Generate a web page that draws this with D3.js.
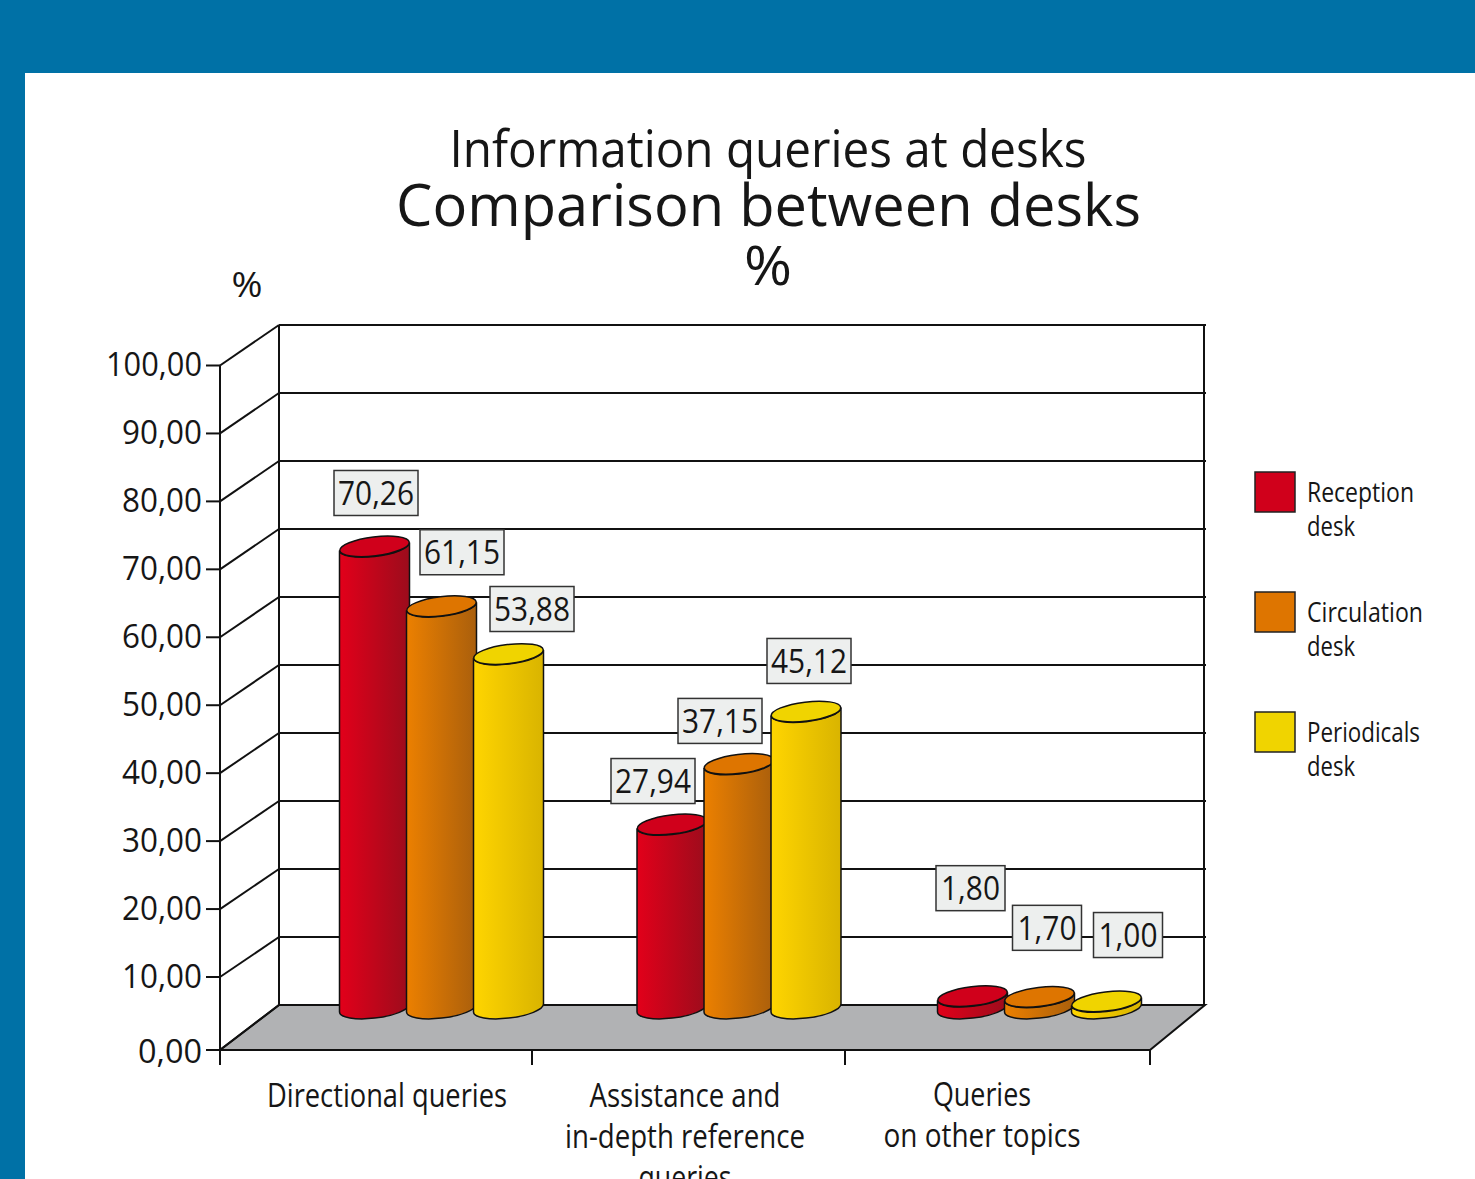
<!DOCTYPE html>
<html><head><meta charset="utf-8">
<script src="https://cdn.jsdelivr.net/npm/d3@7"></script>
<style>html,body{margin:0;padding:0;background:#fff;overflow:hidden}svg{display:block}text{font-family:"Open Sans","Noto Sans",sans-serif;fill:#161616}</style>
</head><body><div id="c"></div>
<script>
const categories = ["Directional queries", "Assistance and|in-depth reference|queries", "Queries|on other topics"];
const seriesNames = ["Reception|desk", "Circulation|desk", "Periodicals|desk"];
const receptionDesk = [70.26, 27.94, 1.80];
const circulationDesk = [61.15, 37.15, 1.70];
const periodicalsDesk = [53.88, 45.12, 1.00];
const seriesColors = ["#d0001b", "#de7500", "#f0d400"];
const yTicks = [0,10,20,30,40,50,60,70,80,90,100];

const W=1475,H=1179;
const svg=d3.select("#c").append("svg").attr("width",W).attr("height",H);
const defs=svg.append("defs");
const grads=[["#e2001a","#9c0c1c"],["#ec8000","#aa5f0c"],["#ffd500","#d9b400"]];
grads.forEach((g,i)=>{const lg=defs.append("linearGradient").attr("id","g"+i);
  lg.append("stop").attr("offset","0").attr("stop-color",g[0]);
  lg.append("stop").attr("offset","1").attr("stop-color",g[1]);});

svg.append("rect").attr("width",W).attr("height",73).attr("fill","#0071a6");
svg.append("rect").attr("width",25).attr("height",H).attr("fill","#0071a6");

function fit(sel,len){return sel.attr("textLength",len).attr("lengthAdjust","spacingAndGlyphs");}
const T=(x,y,s,size,len,anchor="middle",w=400)=>{const t=svg.append("text").attr("x",x).attr("y",y).attr("font-size",size).attr("font-weight",w).attr("text-anchor",anchor).text(s);
 if(len) fit(t,len); return t;};
T(768,167,"Information queries at desks",52,637);
T(768.5,226,"Comparison between desks",58,745);
T(768,285,"%",54,48,"middle",500);
T(247,297,"%",34,31);

// scales
const xL=220,xB=279,xR=1205,xF=1150;
const yBack=d3.scaleLinear([0,100],[1005,325]);
const yFront=d3.scaleLinear([10,100],[977,365.5]);
const yFrontAll=v=>v===0?1050:yFront(v);
const yBar=d3.scaleLinear([0,100],[1008,351]);
const xGroup=d3.scaleOrdinal(categories,[441.5,739,1039.5]);
const xSeries=d3.scalePoint([0,1,2],[-67,67]);

const ax=svg.append("g").attr("fill","none").attr("stroke","#111").attr("stroke-width",2);
ax.append("polygon").attr("points",[[xB,1005],[xR,1005],[xF,1050],[xL,1050]].join(" ")).attr("fill","#b1b2b4");
ax.selectAll(".grid").data(yTicks.filter(v=>v>0)).join("line").attr("x1",xB).attr("x2",xR+1).attr("y1",yBack).attr("y2",yBack);
ax.selectAll(".diag").data(yTicks).join("line").attr("x1",xL).attr("x2",xB).attr("y1",yFrontAll).attr("y2",yBack);
ax.append("line").attr("x1",xL).attr("x2",xL).attr("y1",yFrontAll(100)).attr("y2",1065);
ax.append("line").attr("x1",xB).attr("x2",xB).attr("y1",yBack(100)).attr("y2",1005);
ax.append("line").attr("x1",xR-1).attr("x2",xR-1).attr("y1",yBack(100)).attr("y2",1005);
ax.selectAll(".tk").data(yTicks).join("line").attr("x1",206).attr("x2",xL).attr("y1",yFrontAll).attr("y2",yFrontAll);
const xAxisScale=d3.scaleLinear([0,1,2,3],[220,532,845,1150]);
ax.selectAll(".ct").data([0,1,2,3]).join("line").attr("x1",xAxisScale).attr("x2",xAxisScale).attr("y1",1050).attr("y2",1065);

yTicks.forEach(v=>{const s=d3.format(".2f")(v).replace(".",",");
  T(202,yFrontAll(v)+(v===0?12.5:10.5),s,33,v===100?96:(v===0?64:80),"end");});

// category labels
const catCenters=[387,685,982];
const catWidths=[[240],[191,240,93],[98,197]];
categories.forEach((c,i)=>c.split("|").forEach((l,j)=>T(catCenters[i],(i==2?1106:1107)+j*41,l,33,catWidths[i][j])));

// bars
const rx=35,ryTilt=4,ry=9.5;
function cyl(cx,top,bot){
  return `M${cx-rx},${top+ryTilt}L${cx-rx},${bot+ryTilt}A${rx},${ry+.5} -7 0 0 ${cx+rx},${bot-ryTilt}L${cx+rx},${top-ryTilt}A${rx},${ry+.5} -7 0 1 ${cx-rx},${top+ryTilt}Z`;
}
const series=[receptionDesk,circulationDesk,periodicalsDesk];
const labelOffsets=[[[1.5,-53.4],[-19,-43.4],[-2,-108]],[[20.5,-54],[-19,-43],[7.5,-69]],[[23.5,-45],[3,-50.6],[21.5,-66.4]]];
const barG=svg.append("g");const lblG=svg.append("g");
categories.forEach((c,ci)=>{series.forEach((vals,si)=>{
  const v=vals[ci],cx=xGroup(c)+xSeries(si),top=yBar(v),bot=yBar(0);
  barG.append("path").attr("d",cyl(cx,top,bot)).attr("fill",`url(#g${si})`).attr("stroke","#111").attr("stroke-width",1.5);
  barG.append("ellipse").attr("cx",cx).attr("cy",top).attr("rx",rx).attr("ry",ry).attr("transform",`rotate(-7 ${cx} ${top})`).attr("fill",seriesColors[si]).attr("stroke","#111").attr("stroke-width",1.5);
  const [dx,dy]=labelOffsets[si][ci];
  const w=ci===2?69:84,h=45;
  const lx=cx+dx,ly=top+dy;
  lblG.append("rect").attr("x",lx-w/2).attr("y",ly-h/2).attr("width",w).attr("height",h).attr("fill","#edefee").attr("stroke","#333").attr("stroke-width",1.5);
  T(lx,ly+12,d3.format(".2f")(v).replace(".",","),33,ci===2?59:76);
});});

// legend
const legendY=d3.scalePoint([0,1,2],[492,732]);
seriesNames.forEach((n,i)=>{const y=legendY(i);
  svg.append("rect").attr("x",1255).attr("y",y-20).attr("width",40).attr("height",40).attr("fill",seriesColors[i]).attr("stroke","#222").attr("stroke-width",1.5);
  const p=n.split("|");
  T(1307,y+10,p[0],28,[107,116,113][i],"start");
  T(1307,y+44,p[1],28,48,"start");
});
</script></body></html>
